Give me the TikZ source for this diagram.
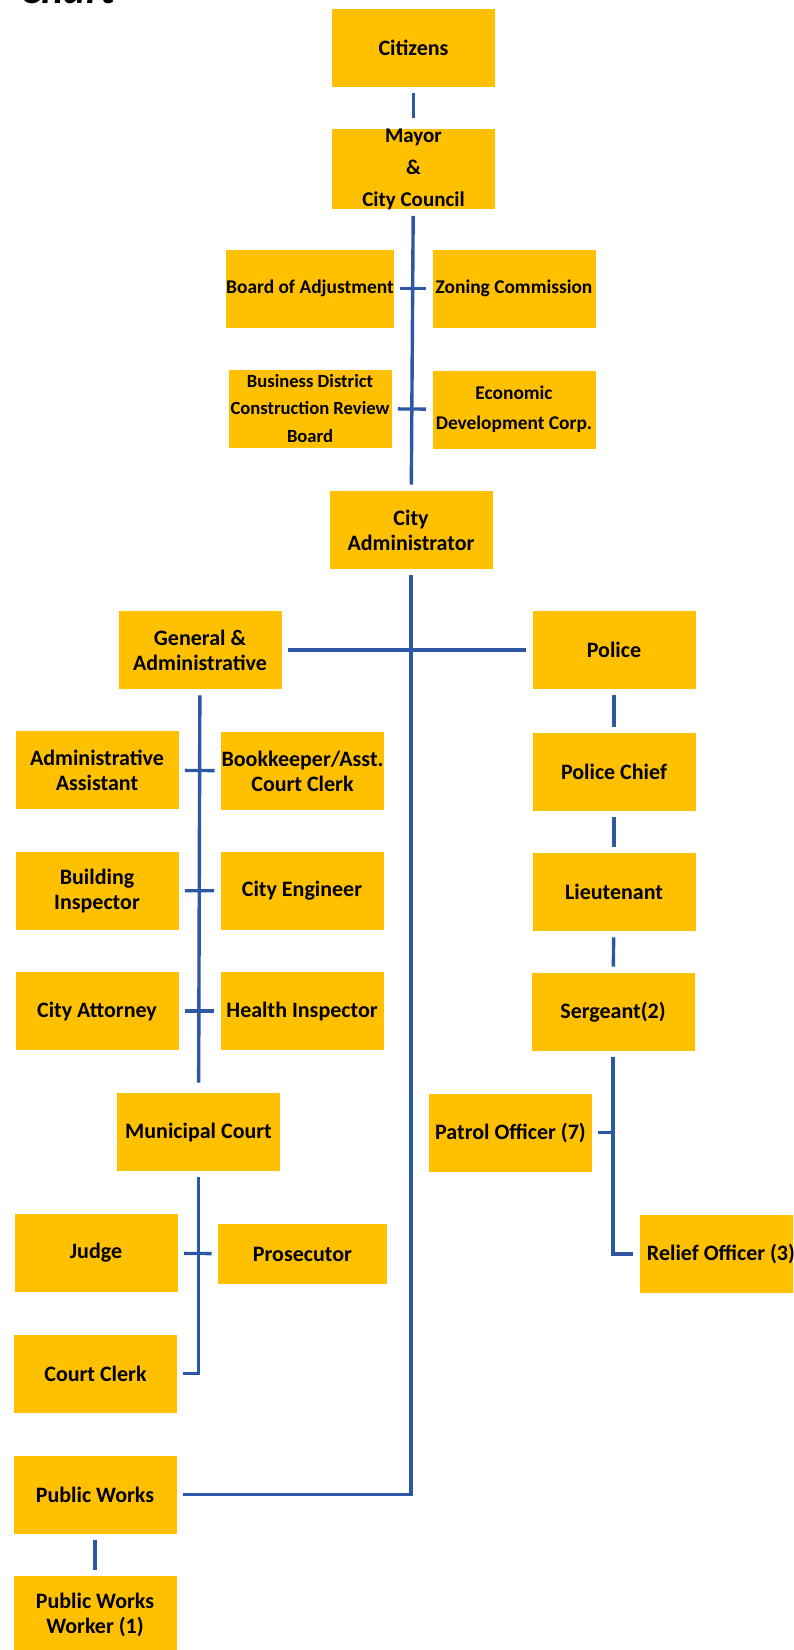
\documentclass[tikz,border=0pt]{standalone}
\usepackage{fontspec}
\setmainfont{Carlito}
\definecolor{boxgold}{RGB}{255,192,0}
\definecolor{lineblue}{RGB}{44,87,165}
\tikzset{
  orgbox/.style={fill=boxgold, minimum width=81.5pt, minimum height=39pt, inner xsep=0pt, inner ysep=0pt, align=center, font=\bfseries\fontsize{11}{12.5}\selectfont},
  smallbox/.style={orgbox, font=\bfseries\fontsize{9.7}{15}\selectfont},
  link/.style={draw=lineblue, line width=1.7pt, shorten <=3pt, shorten >=3pt}
}
\begin{document}
\begin{tikzpicture}[x=0.5pt, y=-0.5pt]
  \useasboundingbox (0,0) rectangle (793,1650);
  \clip (0,0) rectangle (793,1650);
  \node[anchor=base west, font=\bfseries\itshape\fontsize{21}{21}\selectfont] (title) at (13,3) {Chart};
  \node[orgbox] (citizens) at (413.5,48) {Citizens};
  \node[orgbox, font=\bfseries\fontsize{10.5}{16}\selectfont] (mayor) at (413.5,169) {Mayor\\\&\\City Council};
  \node[smallbox] (board) at (310,288.5) {Board of Adjustment};
  \node[smallbox] (zoning) at (514,288.5) {Zoning Commission};
  \node[orgbox, font=\bfseries\fontsize{9.3}{13.75}\selectfont] (business) at (310,408.5) {Business District\\Construction Review\\Board};
  \node[smallbox] (economic) at (514,409.5) {Economic\\Development Corp.};
  \node[orgbox] (admin) at (411,530) {City\\Administrator};
  \node[orgbox] (genadmin) at (200,650) {General \&\\Administrative};
  \node[orgbox] (police) at (614,650) {Police};
  \node[orgbox] (asst) at (97,770) {Administrative\\Assistant};
  \node[orgbox] (bookkeeper) at (302.5,771) {Bookkeeper/Asst.\\Court Clerk};
  \node[orgbox] (inspector) at (97,890.5) {Building\\Inspector};
  \node[orgbox] (engineer) at (302,891) {City Engineer};
  \node[orgbox] (attorney) at (97,1011) {City Attorney};
  \node[orgbox] (health) at (302,1011) {Health Inspector};
  \node[orgbox] (chief) at (614,772) {Police Chief};
  \node[orgbox] (lieutenant) at (614,892) {Lieutenant};
  \node[orgbox] (sergeant) at (613,1012) {Sergeant(2)};
  \node[orgbox] (court) at (198.5,1132) {Municipal Court};
  \node[orgbox] (patrol) at (510.5,1132.5) {Patrol Officer (7)};
  \node[orgbox] (relief) at (721,1254) {Relief Officer (3)};
  \node[orgbox] (judge) at (96,1253) {Judge};
  \node[orgbox, minimum width=84.5pt, minimum height=30pt] (prosecutor) at (302.5,1254) {Prosecutor};
  \node[orgbox] (clerk) at (95.5,1373.5) {Court Clerk};
  \node[orgbox] (pubworks) at (95,1494.5) {Public Works};
  \node[orgbox] (pwworker) at (95,1615) {Public Works\\Worker (1)};
  \coordinate (patroljoin) at (sergeant.south |- patrol.east);
  \draw[link, shorten >=5pt] (citizens) -- (mayor);
  \draw[link] (mayor) -- (admin);
  \draw[link] (board) -- (zoning);
  \draw[link] (business) -- (economic);
  \draw[link] (admin.south) |- (pubworks.east);
  \draw[link] (genadmin) -- (police);
  \draw[link, shorten >=5pt] (genadmin) -- (court);
  \draw[link] (asst) -- (bookkeeper);
  \draw[link] (inspector) -- (engineer);
  \draw[link] (attorney) -- (health);
  \draw[link] (police) -- (chief);
  \draw[link] (chief) -- (lieutenant);
  \draw[link] (lieutenant) -- (sergeant);
  \draw[link] (sergeant.south) |- (relief.west);
  \draw[link, shorten >=0pt] (patrol) -- (patroljoin);
  \draw[link] (court.south) |- (clerk.east);
  \draw[link] (judge) -- (prosecutor);
  \draw[link] (pubworks) -- (pwworker);
\end{tikzpicture}
\end{document}
